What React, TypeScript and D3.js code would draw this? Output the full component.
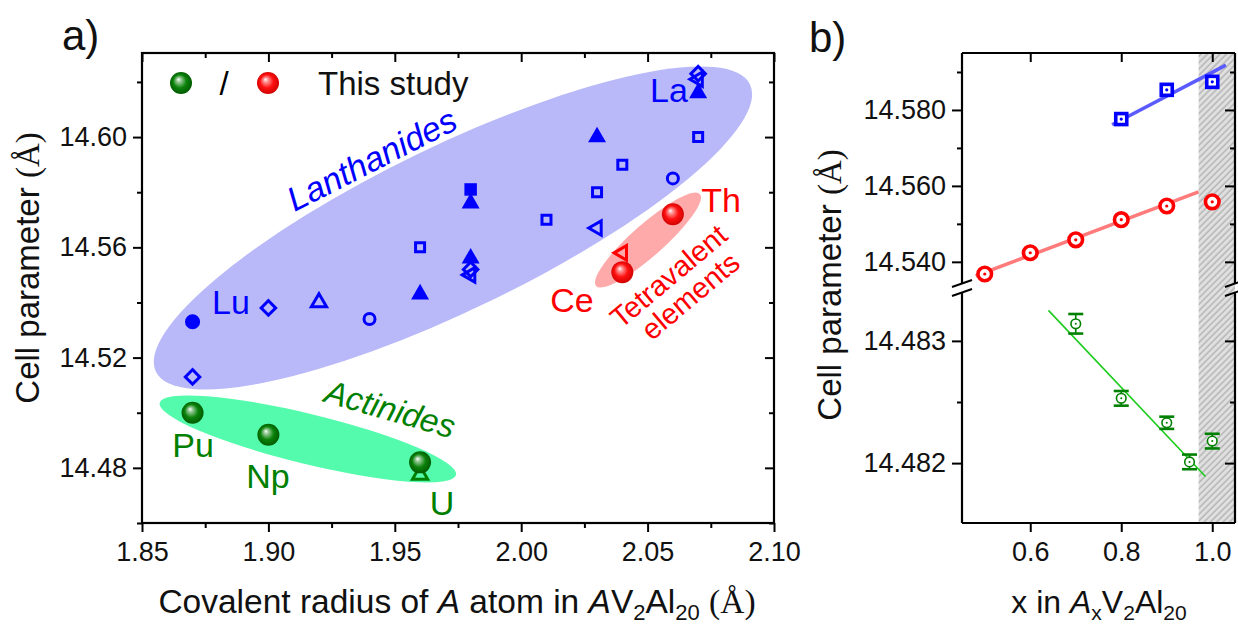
import React, { useEffect, useRef } from 'react'
import * as d3 from 'd3'

// ---- panel a) cell parameter vs covalent radius ----
// lanthanides (literature), blue markers
const lnRadius = [1.87, 1.87, 1.90, 1.92, 1.94, 1.96, 1.96, 1.98, 1.98, 1.98, 1.98, 1.98, 2.01, 2.03, 2.03, 2.03, 2.04, 2.06, 2.07, 2.07, 2.07, 2.07];
const lnCell = [14.533, 14.513, 14.538, 14.540, 14.534, 14.543, 14.560, 14.581, 14.576, 14.556, 14.552, 14.550, 14.570, 14.600, 14.580, 14.567, 14.590, 14.585, 14.623, 14.621, 14.616, 14.600];
const lnMarker = ['circleFilled', 'diamond', 'diamond', 'triangle', 'circle', 'triangleFilled', 'square', 'squareFilled', 'triangleFilled', 'triangleFilled', 'diamond', 'leftTriangle', 'square', 'triangleFilled', 'square', 'leftTriangle', 'square', 'circle', 'diamond', 'leftTriangle', 'triangleFilled', 'square'];

// actinides, this study (balls) + literature U
const anNames = ['Pu', 'Np', 'U'];
const anRadius = [1.87, 1.90, 1.96];
const anCell = [14.500, 14.492, 14.482];
const anLitRadius = [1.96];
const anLitCell = [14.4775];

// tetravalent, this study + literature Ce
const tvNames = ['Ce', 'Th'];
const tvRadius = [2.04, 2.06];
const tvCell = [14.551, 14.572];
const tvLitRadius = [2.04];
const tvLitCell = [14.558];

// group clouds: ends of the long axis in data units
const lnCloud = [[1.8555, 14.5149], [2.0905, 14.6191]];
const anCloud = [[1.857, 14.5036], [1.9742, 14.4774]];
const tvCloud = [[2.0296, 14.546], [2.0707, 14.5793]];

const aXTicks = [1.85, 1.90, 1.95, 2.00, 2.05, 2.10];
const aXMinor = [1.875, 1.925, 1.975, 2.025, 2.075];
const aYTicks = [14.48, 14.52, 14.56, 14.60];
const aYMinor = [14.46, 14.50, 14.54, 14.58, 14.62];

// ---- panel b) cell parameter vs x ----
const redX = [0.5, 0.6, 0.7, 0.8, 0.9, 1.0];
const redCell = [14.5368, 14.5424, 14.5458, 14.5511, 14.5547, 14.5558];
const redFit = [[0.48, 14.5363], [0.97, 14.5584]];

const blueX = [0.8, 0.9, 1.0];
const blueCell = [14.5776, 14.5853, 14.5874];
const blueFit = [[0.78, 14.5761], [1.03, 14.5918]];

const greenX = [0.7, 0.8, 0.9, 0.95, 1.0];
const greenCell = [14.48314, 14.48253, 14.48233, 14.48201, 14.48218];
const greenErr = [0.00008, 0.00006, 0.00005, 0.00006, 0.00006];
const greenFit = [[0.64, 14.48325], [0.985, 14.48189]];

const shadedFrom = 0.97;

const bXTicks = [0.6, 0.8, 1.0];
const bUpTicks = [14.54, 14.56, 14.58];
const bUpMinor = [14.55, 14.57, 14.59];
const bLowTicks = [14.482, 14.483];
const bLowMinor = [14.4825];

const SANS = '"Liberation Sans", Arial, sans-serif';
const SERIF = '"Liberation Serif", "Times New Roman", serif';
const TICK = 27;

const shapes: any = {
  circle: { type: d3.symbolCircle, size: 95, rot: 0, filled: false },
  circleFilled: { type: d3.symbolCircle, size: 180, rot: 0, filled: true },
  square: { type: d3.symbolSquare, size: 81, rot: 0, filled: false },
  squareFilled: { type: d3.symbolSquare, size: 156, rot: 0, filled: true },
  triangle: { type: d3.symbolTriangle, size: 100, rot: 0, filled: false },
  triangleFilled: { type: d3.symbolTriangle, size: 140, rot: 0, filled: true },
  diamond: { type: d3.symbolSquare, size: 105, rot: 45, filled: false },
  leftTriangle: { type: d3.symbolTriangle, size: 90, rot: -90, filled: false },
}

function styleAxis(g: any) {
  g.select('.domain').remove();
  g.selectAll('line').attr('stroke', '#000').attr('stroke-width', 2);
  g.selectAll('text').attr('font-family', SANS).attr('font-size', TICK).attr('fill', '#111');
}

function drawCloud(g: any, ends: number[][], x: any, y: any, semiMinor: number, fill: string) {
  const x1 = x(ends[0][0]), y1 = y(ends[0][1]);
  const x2 = x(ends[1][0]), y2 = y(ends[1][1]);
  const cx = (x1 + x2) / 2, cy = (y1 + y2) / 2;
  const a = Math.hypot(x2 - x1, y2 - y1) / 2;
  const ang = Math.atan2(y2 - y1, x2 - x1) * 180 / Math.PI;
  g.append('ellipse')
    .attr('transform', `translate(${cx},${cy}) rotate(${ang})`)
    .attr('rx', a).attr('ry', semiMinor)
    .attr('fill', fill);
}

export default function App() {
  const ref = useRef<SVGSVGElement>(null);

  useEffect(() => {
    const svg = d3.select(ref.current);
    svg.selectAll('*').remove();

    const defs = svg.append('defs');
    const ball = (id: string, light: string, mid: string, dark: string) => {
      const gr = defs.append('radialGradient').attr('id', id)
        .attr('cx', '0.5').attr('cy', '0.5').attr('r', '0.55')
        .attr('fx', '0.38').attr('fy', '0.33');
      gr.append('stop').attr('offset', '0%').attr('stop-color', '#ffffff');
      gr.append('stop').attr('offset', '18%').attr('stop-color', light);
      gr.append('stop').attr('offset', '55%').attr('stop-color', mid);
      gr.append('stop').attr('offset', '100%').attr('stop-color', dark);
    };
    ball('ballGreen', '#9ccc9c', '#0a820a', '#005400');
    ball('ballRed', '#ff9a9a', '#ff1010', '#c80000');

    const pat = defs.append('pattern').attr('id', 'hatch')
      .attr('patternUnits', 'userSpaceOnUse').attr('width', 4.5).attr('height', 4.5)
      .attr('patternTransform', 'rotate(45)');
    pat.append('rect').attr('width', 4.5).attr('height', 4.5).attr('fill', '#e0e0e0');
    pat.append('line').attr('x1', 1).attr('x2', 1).attr('y1', 0).attr('y2', 4.5)
      .attr('stroke', '#b6b6b6').attr('stroke-width', 1.5);

    svg.append('rect').attr('width', 1238).attr('height', 630).attr('fill', '#fff');

    // ================= panel a =================
    const xA = d3.scaleLinear().domain([1.85, 2.10]).range([142, 774]);
    const yA = d3.scaleLinear().domain([14.46, 14.6305]).range([523, 53]);
    const a = svg.append('g');

    drawCloud(a, lnCloud, xA, yA, 82, '#b9b9f9');
    drawCloud(a, anCloud, xA, yA, 25, '#55fbad');
    drawCloud(a, tvCloud, xA, yA, 16, '#ffaaaa');

    // group labels
    a.append('text').text('Lanthanides')
      .attr('transform', 'translate(377,170) rotate(-27)')
      .attr('text-anchor', 'middle').attr('font-family', SANS).attr('font-style', 'italic')
      .attr('font-size', 34).attr('fill', '#0000ff');
    a.append('text').text('Actinides')
      .attr('transform', 'translate(387,420) rotate(16)')
      .attr('text-anchor', 'middle').attr('font-family', SANS).attr('font-style', 'italic')
      .attr('font-size', 33).attr('fill', '#008000');
    const tv = a.append('text')
      .attr('transform', 'translate(675,284) rotate(-40)')
      .attr('text-anchor', 'middle').attr('font-family', SANS)
      .attr('font-size', 29).attr('fill', '#ff0000');
    tv.append('tspan').attr('x', 0).attr('y', 0).text('Tetravalent');
    tv.append('tspan').attr('x', 4).attr('y', 29).text('elements');

    // lanthanide markers
    const lnData = lnRadius.map((r, i) => ({ r, c: lnCell[i], m: lnMarker[i] }));
    a.selectAll('path.ln').data(lnData).enter().append('path')
      .attr('class', 'ln')
      .attr('d', (d: any) => d3.symbol(shapes[d.m].type, shapes[d.m].size)())
      .attr('transform', (d: any) => `translate(${xA(d.r)},${yA(d.c)}) rotate(${shapes[d.m].rot})`)
      .attr('fill', (d: any) => shapes[d.m].filled ? '#0000ff' : 'none')
      .attr('stroke', (d: any) => shapes[d.m].filled ? 'none' : '#0000ff')
      .attr('stroke-width', 3);

    // literature actinide / tetravalent
    a.selectAll('path.anLit').data(anLitRadius).enter().append('path')
      .attr('d', d3.symbol(d3.symbolTriangle, 100)())
      .attr('transform', (d, i) => `translate(${xA(d)},${yA(anLitCell[i])})`)
      .attr('fill', 'none').attr('stroke', '#008000').attr('stroke-width', 3);
    a.selectAll('path.tvLit').data(tvLitRadius).enter().append('path')
      .attr('d', d3.symbol(d3.symbolTriangle, 90)())
      .attr('transform', (d, i) => `translate(${xA(d)},${yA(tvLitCell[i])}) rotate(-90)`)
      .attr('fill', 'none').attr('stroke', '#ff0000').attr('stroke-width', 3);

    // this study balls
    a.selectAll('circle.an').data(anRadius).enter().append('circle')
      .attr('cx', d => xA(d)).attr('cy', (d, i) => yA(anCell[i])).attr('r', 11)
      .attr('fill', 'url(#ballGreen)');
    a.selectAll('circle.tv').data(tvRadius).enter().append('circle')
      .attr('cx', d => xA(d)).attr('cy', (d, i) => yA(tvCell[i])).attr('r', 11)
      .attr('fill', 'url(#ballRed)');

    // element labels
    const elLabel = (t: string, x: number, y: number, c: string) =>
      a.append('text').text(t).attr('x', x).attr('y', y).attr('text-anchor', 'middle')
        .attr('font-family', SANS).attr('font-size', 34).attr('fill', c);
    elLabel('La', 669, 102, '#0000ff');
    elLabel('Lu', 231, 314, '#0000ff');
    elLabel(anNames[0], 193, 457, '#008000');
    elLabel(anNames[1], 268, 488, '#008000');
    elLabel(anNames[2], 442, 515, '#008000');
    elLabel(tvNames[1], 721, 212, '#ff0000');
    elLabel(tvNames[0], 572, 312, '#ff0000');

    // legend
    a.append('circle').attr('cx', 181).attr('cy', 83).attr('r', 11).attr('fill', 'url(#ballGreen)');
    a.append('text').text('/').attr('x', 224).attr('y', 95).attr('text-anchor', 'middle')
      .attr('font-family', SANS).attr('font-size', 33);
    a.append('circle').attr('cx', 268).attr('cy', 83).attr('r', 11).attr('fill', 'url(#ballRed)');
    a.append('text').text('This study').attr('x', 318).attr('y', 95)
      .attr('font-family', SANS).attr('font-size', 33).attr('fill', '#111');

    // axes
    a.append('g').attr('transform', 'translate(0,523)')
      .call(d3.axisBottom(xA).tickValues(aXTicks).tickSize(9).tickPadding(10).tickFormat(d3.format('.2f')))
      .call(styleAxis);
    a.append('g').attr('transform', 'translate(0,523)')
      .call(d3.axisBottom(xA).tickValues(aXMinor).tickSize(5).tickFormat(() => ''))
      .call(styleAxis);
    a.append('g').attr('transform', 'translate(0,53)')
      .call(d3.axisTop(xA).tickValues(aXTicks).tickSize(-9).tickFormat(() => ''))
      .call(styleAxis);
    a.append('g').attr('transform', 'translate(0,53)')
      .call(d3.axisTop(xA).tickValues(aXMinor).tickSize(-5).tickFormat(() => ''))
      .call(styleAxis);
    a.append('g').attr('transform', 'translate(142,0)')
      .call(d3.axisLeft(yA).tickValues(aYTicks).tickSize(9).tickPadding(6).tickFormat(d3.format('.2f')))
      .call(styleAxis);
    a.append('g').attr('transform', 'translate(142,0)')
      .call(d3.axisLeft(yA).tickValues(aYMinor).tickSize(5).tickFormat(() => ''))
      .call(styleAxis);
    a.append('g').attr('transform', 'translate(774,0)')
      .call(d3.axisRight(yA).tickValues(aYTicks).tickSize(-9).tickFormat(() => ''))
      .call(styleAxis);
    a.append('g').attr('transform', 'translate(774,0)')
      .call(d3.axisRight(yA).tickValues(aYMinor).tickSize(-5).tickFormat(() => ''))
      .call(styleAxis);
    a.append('rect').attr('x', 142).attr('y', 53).attr('width', 632).attr('height', 470)
      .attr('fill', 'none').attr('stroke', '#000').attr('stroke-width', 2.2);

    // titles
    a.append('text').text('a)').attr('x', 62).attr('y', 50)
      .attr('font-family', SANS).attr('font-size', 42).attr('fill', '#111');
    const yt = a.append('text').attr('transform', 'translate(39,268) rotate(-90)')
      .attr('text-anchor', 'middle').attr('font-family', SANS).attr('font-size', 33).attr('fill', '#111');
    yt.append('tspan').text('Cell parameter ');
    yt.append('tspan').attr('font-family', SERIF).text('(Å)');

    const xt = a.append('text').attr('x', 457).attr('y', 613)
      .attr('text-anchor', 'middle').attr('font-family', SANS).attr('font-size', 33.5).attr('fill', '#111');
    xt.append('tspan').text('Covalent radius of ');
    xt.append('tspan').attr('font-style', 'italic').text('A');
    xt.append('tspan').text(' atom in ');
    xt.append('tspan').attr('font-style', 'italic').text('A');
    xt.append('tspan').text('V');
    xt.append('tspan').attr('font-size', 22).attr('dy', 7).text('2');
    xt.append('tspan').attr('dy', -7).text('Al');
    xt.append('tspan').attr('font-size', 22).attr('dy', 7).text('20');
    xt.append('tspan').attr('dy', -7).text(' ');
    xt.append('tspan').attr('font-family', SERIF).text('(Å)');

    // ================= panel b =================
    const xB = d3.scaleLinear().domain([0.45, 1.05]).range([962, 1235]);
    const yUp = d3.scaleLinear().domain([14.5339, 14.595]).range([285, 53]);
    const yLow = d3.scaleLinear().domain([14.48151, 14.4834]).range([523, 292]);
    const b = svg.append('g');

    b.append('rect').attr('x', xB(shadedFrom)).attr('y', 53)
      .attr('width', xB(1.05) - xB(shadedFrom)).attr('height', 470).attr('fill', 'url(#hatch)');

    // fit lines
    const fitLine = (pts: number[][], y: any, color: string, w: number) =>
      b.append('path').attr('d', d3.line()(pts.map(p => [xB(p[0]), y(p[1])]) as any))
        .attr('stroke', color).attr('stroke-width', w).attr('fill', 'none');
    fitLine(redFit, yUp, '#ff7a7a', 3.5);
    fitLine(blueFit, yUp, '#5a5aff', 3.5);
    fitLine(greenFit, yLow, '#1ccc1c', 1.6);

    // red circles
    const red = b.selectAll('g.red').data(redX).enter().append('g')
      .attr('transform', (d, i) => `translate(${xB(d)},${yUp(redCell[i])})`);
    red.append('circle').attr('r', 6.8).attr('fill', '#fff').attr('stroke', '#ff0000').attr('stroke-width', 3.6);
    red.append('circle').attr('r', 1.6).attr('fill', '#ff0000');

    // blue squares
    const blue = b.selectAll('g.blue').data(blueX).enter().append('g')
      .attr('transform', (d, i) => `translate(${xB(d)},${yUp(blueCell[i])})`);
    blue.append('rect').attr('x', -5.5).attr('y', -5.5).attr('width', 11).attr('height', 11)
      .attr('fill', '#fff').attr('stroke', '#0000ff').attr('stroke-width', 3.6);
    blue.append('circle').attr('r', 1.6).attr('fill', '#0000ff');

    // green circles with error bars
    const green = b.selectAll('g.green').data(greenX).enter().append('g');
    green.append('line')
      .attr('x1', d => xB(d)).attr('x2', d => xB(d))
      .attr('y1', (d, i) => yLow(greenCell[i] + greenErr[i])).attr('y2', (d, i) => yLow(greenCell[i] - greenErr[i]))
      .attr('stroke', '#008000').attr('stroke-width', 1.6);
    [1, -1].forEach(s => {
      green.append('line')
        .attr('x1', d => xB(d) - 7.5).attr('x2', d => xB(d) + 7.5)
        .attr('y1', (d, i) => yLow(greenCell[i] + s * greenErr[i])).attr('y2', (d, i) => yLow(greenCell[i] + s * greenErr[i]))
        .attr('stroke', '#008000').attr('stroke-width', 2.6);
    });
    green.append('circle').attr('cx', d => xB(d)).attr('cy', (d, i) => yLow(greenCell[i])).attr('r', 4.8)
      .attr('fill', '#fff').attr('stroke', '#008000').attr('stroke-width', 1.6);
    green.append('circle').attr('cx', d => xB(d)).attr('cy', (d, i) => yLow(greenCell[i])).attr('r', 1)
      .attr('fill', '#008000');

    // axes b
    b.append('g').attr('transform', 'translate(0,523)')
      .call(d3.axisBottom(xB).tickValues(bXTicks).tickSize(9).tickPadding(10).tickFormat(d3.format('.1f')))
      .call(styleAxis);
    b.append('g').attr('transform', 'translate(0,53)')
      .call(d3.axisTop(xB).tickValues(bXTicks).tickSize(-9).tickFormat(() => ''))
      .call(styleAxis);
    const yAxes = (y: any, major: number[], minor: number[]) => {
      b.append('g').attr('transform', 'translate(962,0)')
        .call(d3.axisLeft(y).tickValues(major).tickSize(10).tickPadding(6).tickFormat(d3.format('.3f')))
        .call(styleAxis);
      b.append('g').attr('transform', 'translate(962,0)')
        .call(d3.axisLeft(y).tickValues(minor).tickSize(5).tickFormat(() => ''))
        .call(styleAxis);
      b.append('g').attr('transform', 'translate(1235,0)')
        .call(d3.axisRight(y).tickValues(major).tickSize(-10).tickFormat(() => ''))
        .call(styleAxis);
      b.append('g').attr('transform', 'translate(1235,0)')
        .call(d3.axisRight(y).tickValues(minor).tickSize(-5).tickFormat(() => ''))
        .call(styleAxis);
    };
    yAxes(yUp, bUpTicks, bUpMinor);
    yAxes(yLow, bLowTicks, bLowMinor);

    // frame with break
    const frame = [
      [[962, 53], [1235, 53]], [[962, 523], [1235, 523]],
      [[962, 53], [962, 283]], [[962, 293], [962, 523]],
      [[1235, 53], [1235, 283]], [[1235, 293], [1235, 523]],
    ];
    frame.forEach(seg => b.append('path').attr('d', d3.line()(seg as any))
      .attr('stroke', '#000').attr('stroke-width', 2.2).attr('fill', 'none'));
    [962, 1235].forEach(x0 => {
      [-4.5, 4.5].forEach(dy => {
        b.append('line').attr('x1', x0 - 10).attr('y1', 288 + dy + 3.5)
          .attr('x2', x0 + 10).attr('y2', 288 + dy - 3.5)
          .attr('stroke', '#000').attr('stroke-width', 2);
      });
    });

    b.append('text').text('b)').attr('x', 809).attr('y', 52)
      .attr('font-family', SANS).attr('font-size', 42).attr('fill', '#111');
    const ytb = b.append('text').attr('transform', 'translate(841,285) rotate(-90)')
      .attr('text-anchor', 'middle').attr('font-family', SANS).attr('font-size', 33).attr('fill', '#111');
    ytb.append('tspan').text('Cell parameter ');
    ytb.append('tspan').attr('font-family', SERIF).text('(Å)');

    const xtb = b.append('text').attr('x', 1099).attr('y', 613)
      .attr('text-anchor', 'middle').attr('font-family', SANS).attr('font-size', 32).attr('fill', '#111');
    xtb.append('tspan').text('x in ');
    xtb.append('tspan').attr('font-style', 'italic').text('A');
    xtb.append('tspan').attr('font-size', 21).attr('dy', 7).text('x');
    xtb.append('tspan').attr('dy', -7).text('V');
    xtb.append('tspan').attr('font-size', 21).attr('dy', 7).text('2');
    xtb.append('tspan').attr('dy', -7).text('Al');
    xtb.append('tspan').attr('font-size', 21).attr('dy', 7).text('20');
  }, []);

  return (
    <svg ref={ref} width={1238} height={630}
      style={{ position: 'absolute', left: 0, top: 0, display: 'block' }} />
  );
}
